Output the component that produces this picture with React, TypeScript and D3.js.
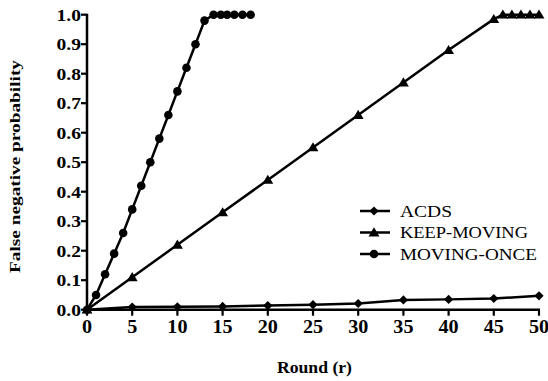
import React from "react";
import * as d3 from "d3";

const acdsX = [0, 5, 10, 15, 20, 25, 30, 35, 40, 45, 50];
const acdsY = [0, 0.009, 0.01, 0.011, 0.014, 0.017, 0.021, 0.033, 0.035, 0.038, 0.047];

const keepX = [0, 5, 10, 15, 20, 25, 30, 35, 40, 45, 46, 47, 48, 49, 50];
const keepY = [0, 0.11, 0.22, 0.33, 0.44, 0.55, 0.66, 0.77, 0.88, 0.985, 1, 1, 1, 1, 1];

const onceX = [0, 1, 2, 3, 4, 5, 6, 7, 8, 9, 10, 11, 12, 13, 14, 14.8, 15.5, 16.3, 17.2, 18.1];
const onceY = [0, 0.05, 0.12, 0.19, 0.26, 0.34, 0.42, 0.5, 0.58, 0.66, 0.74, 0.82, 0.9, 0.98, 1, 1, 1, 1, 1, 1];

const xTicks = [0, 5, 10, 15, 20, 25, 30, 35, 40, 45, 50];
const yTicks = [0, 0.1, 0.2, 0.3, 0.4, 0.5, 0.6, 0.7, 0.8, 0.9, 1.0];

const seriesNames = ["ACDS", "KEEP-MOVING", "MOVING-ONCE"];

const W = 548, H = 381;
const L = 87, R = 539, T = 14.7, B = 309.7;
const FONT = "Liberation Serif, Times New Roman, serif";

function Marker({ kind, x, y }: { kind: string; x: number; y: number }) {
  if (kind === "circle") return <circle cx={x} cy={y} r={4.3} fill="#000" />;
  if (kind === "triangle") {
    const s = 5.2;
    return <path d={`M${x},${y - s}L${x + s * 1.05},${y + s * 0.75}L${x - s * 1.05},${y + s * 0.75}Z`} fill="#000" />;
  }
  const s = 4.6;
  return <path d={`M${x},${y - s}L${x + s},${y}L${x},${y + s}L${x - s},${y}Z`} fill="#000" />;
}

export default function App() {
  const x = d3.scaleLinear().domain([0, 50]).range([L, R]);
  const y = d3.scaleLinear().domain([0, 1]).range([B, T]);
  const line = d3.line<[number, number]>().x((d) => x(d[0])).y((d) => y(d[1]));

  const series = [
    { name: seriesNames[0], xs: acdsX, ys: acdsY, kind: "diamond" },
    { name: seriesNames[1], xs: keepX, ys: keepY, kind: "triangle" },
    { name: seriesNames[2], xs: onceX, ys: onceY, kind: "circle" },
  ];
  const legendW = [52, 128, 137];
  const legendY = [211, 232.5, 254];

  return (
    <svg width={W} height={H} style={{ position: "absolute", left: 0, top: 0, background: "#fff", fontFamily: FONT }}>
      {series.map((s) => {
        const pts = s.xs.map((v, i) => [v, s.ys[i]] as [number, number]);
        return (
          <g key={s.name}>
            <path d={line(pts) || ""} fill="none" stroke="#000" strokeWidth={2.5} />
            {pts.map((p, i) => (
              <Marker key={i} kind={s.kind} x={x(p[0])} y={y(p[1])} />
            ))}
          </g>
        );
      })}
      {/* axes */}
      <line x1={L} x2={L} y1={T - 1} y2={B + 1} stroke="#000" strokeWidth={2.5} />
      <line x1={L - 1} x2={R + 1} y1={B} y2={B} stroke="#000" strokeWidth={2.5} />
      {yTicks.map((t) => (
        <g key={"y" + t}>
          <line x1={L - 6} x2={L} y1={y(t)} y2={y(t)} stroke="#000" strokeWidth={2.2} />
          <text
            transform={`translate(${L - 6},${y(t) + 6}) scale(1.15,1)`}
            textAnchor="end"
            fontSize={17}
            fontWeight="bold"
            style={{ fontFamily: FONT }}
          >
            {t.toFixed(1)}
          </text>
        </g>
      ))}
      {xTicks.map((t) => (
        <g key={"x" + t}>
          <line x1={x(t)} x2={x(t)} y1={B} y2={B + 6} stroke="#000" strokeWidth={2.2} />
          <text
            transform={`translate(${x(t)},${B + 23}) scale(1.12,1)`}
            textAnchor="middle"
            fontSize={18}
            fontWeight="bold"
            style={{ fontFamily: FONT }}
          >
            {t}
          </text>
        </g>
      ))}
      <text
        x={314.5}
        y={373}
        textAnchor="middle"
        fontSize={16}
        fontWeight="bold"
        textLength={75}
        lengthAdjust="spacingAndGlyphs"
        style={{ fontFamily: FONT }}
      >
        Round (r)
      </text>
      <text
        transform={`translate(20,166.5) rotate(-90)`}
        textAnchor="middle"
        fontSize={15}
        fontWeight="bold"
        textLength={213}
        lengthAdjust="spacingAndGlyphs"
        style={{ fontFamily: FONT }}
      >
        False negative probability
      </text>
      {/* legend */}
      {series.map((s, i) => {
        const ly = legendY[i];
        return (
          <g key={"lg" + s.name}>
            <line x1={360} x2={390} y1={ly} y2={ly} stroke="#000" strokeWidth={2.5} />
            <Marker kind={s.kind} x={374} y={ly} />
            <text
              x={400}
              y={ly + 5.5}
              fontSize={16.5}
              textLength={legendW[i]}
              lengthAdjust="spacingAndGlyphs"
              style={{ fontFamily: FONT }}
            >
              {s.name}
            </text>
          </g>
        );
      })}
    </svg>
  );
}
